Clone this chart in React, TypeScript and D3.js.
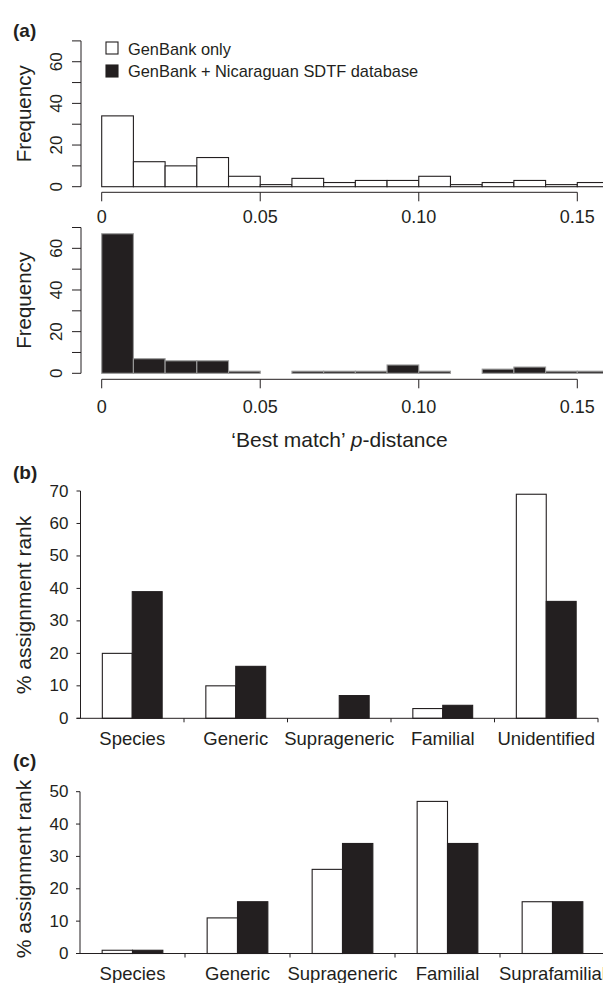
import React from "react";
import * as d3 from "d3";

// histogram bins of best-match p-distance
const binEdges = [0, 0.01, 0.02, 0.03, 0.04, 0.05, 0.06, 0.07, 0.08, 0.09, 0.1, 0.11, 0.12, 0.13, 0.14, 0.15, 0.16];
const genbankOnly = [34, 12, 10, 14, 5, 1, 4, 2, 3, 3, 5, 1, 2, 3, 1, 2];
const genbankPlus = [67, 7, 6, 6, 1, 0, 1, 1, 1, 4, 1, 0, 2, 3, 1, 1];
const histXTicks = [0, 0.05, 0.1, 0.15];
const histXTickLabels = ["0", "0.05", "0.10", "0.15"];
const histYTicks = [0, 10, 20, 30, 40, 50, 60, 70];
const histYLabels = [0, 20, 40, 60];

// assignment ranks
const series = ["GenBank only", "GenBank + Nicaraguan SDTF database"];
const ranksB = ["Species", "Generic", "Suprageneric", "Familial", "Unidentified"];
const bGenbank = [20, 10, 0, 3, 69];
const bPlus = [39, 16, 7, 4, 36];
const bTicks = [0, 10, 20, 30, 40, 50, 60, 70];
const ranksC = ["Species", "Generic", "Suprageneric", "Familial", "Suprafamilial"];
const cGenbank = [1, 11, 26, 47, 16];
const cPlus = [1, 16, 34, 34, 16];
const cTicks = [0, 10, 20, 30, 40, 50];

const INK = "#231f20";
const FONT = "'Liberation Sans', Arial, Helvetica, sans-serif";

type HistProps = {
  counts: number[];
  fill: string;
  stroke: string;
  base: number;
  top: number;
  axisY: number;
  labelY: number;
};

const x = d3.scaleLinear().domain([0, 0.15]).range([101.7, 577.3]);

const Histogram = ({ counts, fill, stroke, base, top, axisY, labelY }: HistProps) => {
  const y = d3.scaleLinear().domain([0, 70]).range([base, top]);
  const axisX = 81;
  return (
    <g>
      {counts.map((c, i) => (
        <rect
          key={i}
          x={x(binEdges[i])}
          y={y(c)}
          width={x(binEdges[i + 1]) - x(binEdges[i])}
          height={y(0) - y(c)}
          fill={fill}
          stroke={stroke}
          strokeWidth={1.1}
        />
      ))}
      {/* y axis */}
      <line x1={axisX} x2={axisX} y1={y(0)} y2={y(70)} stroke={INK} />
      {histYTicks.map(t => (
        <line key={t} x1={axisX - 9} x2={axisX} y1={y(t)} y2={y(t)} stroke={INK} />
      ))}
      {histYLabels.map(t => (
        <text
          key={t}
          transform={`translate(56.7,${y(t)}) rotate(-90)`}
          textAnchor="middle"
          dominantBaseline="central"
          fontSize={17}
        >
          {t}
        </text>
      ))}
      <text
        transform={`translate(23,${(y(0) + y(70)) / 2}) rotate(-90)`}
        textAnchor="middle"
        dominantBaseline="central"
        fontSize={20.5}
      >
        Frequency
      </text>
      {/* x axis */}
      <line x1={x(0)} x2={x(0.15)} y1={axisY} y2={axisY} stroke={INK} />
      {histXTicks.map((t, i) => (
        <g key={t}>
          <line x1={x(t)} x2={x(t)} y1={axisY} y2={axisY + 9} stroke={INK} />
          <text x={x(t)} y={labelY} textAnchor="middle" dominantBaseline="central" fontSize={18}>
            {histXTickLabels[i]}
          </text>
        </g>
      ))}
    </g>
  );
};

type RankProps = {
  ranks: string[];
  a: number[];
  b: number[];
  ticks: number[];
  x0: number;
  x1: number;
  base: number;
  top: number;
  labelY: number;
  titleY: number;
};

const RankBars = ({ ranks, a, b, ticks, x0, x1, base, top, labelY, titleY }: RankProps) => {
  const maxT = ticks[ticks.length - 1];
  const y = d3.scaleLinear().domain([0, maxT]).range([base, top]);
  const xb = d3.scaleBand().domain(ranks).range([x0, x1]).padding(0);
  const xs = d3.scaleBand().domain(series).range([0, xb.bandwidth()]).paddingInner(0).paddingOuter(0.73);
  const vals = [a, b];
  const bounds = ranks.map(r => (xb(r) as number) + xb.bandwidth());
  return (
    <g>
      {ranks.map((r, i) =>
        series.map((s, j) =>
          vals[j][i] > 0 ? (
            <rect
              key={r + s}
              x={(xb(r) as number) + (xs(s) as number)}
              y={y(vals[j][i])}
              width={xs.bandwidth()}
              height={y(0) - y(vals[j][i])}
              fill={j === 0 ? "#fff" : INK}
              stroke={INK}
              strokeWidth={1.1}
            />
          ) : null
        )
      )}
      {/* y axis */}
      <line x1={x0} x2={x0} y1={y(0)} y2={y(maxT)} stroke={INK} />
      {ticks.map(t => (
        <g key={t}>
          <line x1={x0 - 4} x2={x0} y1={y(t)} y2={y(t)} stroke={INK} />
          <text x={68.5} y={y(t)} textAnchor="end" dominantBaseline="central" fontSize={17}>
            {t}
          </text>
        </g>
      ))}
      <text
        transform={`translate(23.3,${titleY}) rotate(-90)`}
        textAnchor="middle"
        dominantBaseline="central"
        fontSize={21}
      >
        % assignment rank
      </text>
      {/* x axis */}
      <line x1={x0 - 4} x2={x1} y1={y(0)} y2={y(0)} stroke={INK} />
      {bounds.map((bx, i) => (
        <line key={i} x1={bx} x2={bx} y1={y(0)} y2={y(0) + 4} stroke={INK} />
      ))}
      {ranks.map(r => (
        <text
          key={r}
          x={(xb(r) as number) + xb.bandwidth() / 2}
          y={labelY}
          textAnchor="middle"
          dominantBaseline="central"
          fontSize={18.5}
        >
          {r}
        </text>
      ))}
    </g>
  );
};

const App = () => {
  return (
    <svg
      width={603}
      height={983}
      style={{ position: "absolute", left: 0, top: 0, background: "#fff" }}
      fontFamily={FONT}
      fill={INK}
    >
      <text x={13} y={30.7} dominantBaseline="central" fontSize={19} fontWeight="bold">
        (a)
      </text>
      {/* legend */}
      <rect x={106} y={42} width={12} height={12} fill="#fff" stroke={INK} strokeWidth={1.1} />
      <text x={128} y={49.3} dominantBaseline="central" fontSize={16.4}>
        {series[0]}
      </text>
      <rect x={106} y={65} width={12} height={12} fill={INK} stroke={INK} strokeWidth={1.1} />
      <text x={128} y={70.7} dominantBaseline="central" fontSize={16.4}>
        {series[1]}
      </text>

      <Histogram counts={genbankOnly} fill="#fff" stroke={INK} base={186.7} top={40.9} axisY={192.3} labelY={217.3} />
      <Histogram counts={genbankPlus} fill={INK} stroke="#9a9a9a" base={373.3} top={227.5} axisY={379.3} labelY={407.3} />
      <text x={339.5} y={439.3} textAnchor="middle" dominantBaseline="central" fontSize={21}>
        ‘Best match’ <tspan fontStyle="italic">p</tspan>-distance
      </text>

      <text x={13} y={472.3} dominantBaseline="central" fontSize={19} fontWeight="bold">
        (b)
      </text>
      <RankBars
        ranks={ranksB}
        a={bGenbank}
        b={bPlus}
        ticks={bTicks}
        x0={80.5}
        x1={598}
        base={718.3}
        top={491}
        labelY={738.3}
        titleY={605}
      />

      <text x={13} y={760} dominantBaseline="central" fontSize={19} fontWeight="bold">
        (c)
      </text>
      <RankBars
        ranks={ranksC}
        a={cGenbank}
        b={cPlus}
        ticks={cTicks}
        x0={80}
        x1={605}
        base={953.5}
        top={791.7}
        labelY={973.3}
        titleY={869}
      />
    </svg>
  );
};

export default App;
